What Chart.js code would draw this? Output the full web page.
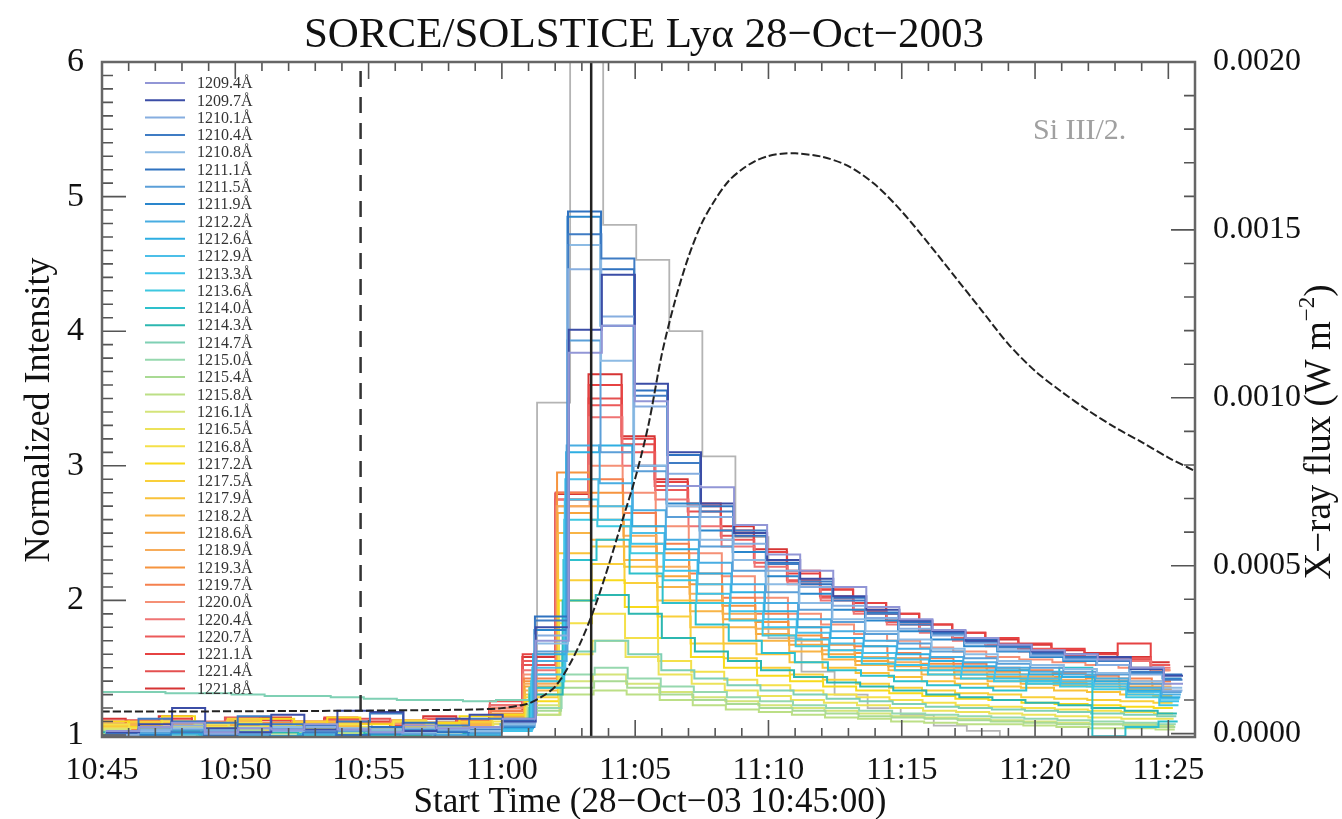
<!DOCTYPE html>
<html lang="en">
<head>
    <meta charset="UTF-8">
    <title>SORCE/SOLSTICE Lyα 28-Oct-2003</title>
    <style>
        body {
            margin: 0;
            background-color: #fff;
        }
        #wrap {
            width: 1342px;
            height: 819px;
        }
    </style>
    <script src="https://cdn.jsdelivr.net/npm/chart.js"></script>
</head>
<body>
    <div id="wrap"><canvas id="lyaChart" width="1342" height="819"></canvas></div>

    <script>
        // wavelengths of the SOLSTICE scan (legend order)
        var wavelengths = ['1209.4','1209.7','1210.1','1210.4','1210.8','1211.1','1211.5','1211.9','1212.2','1212.6','1212.9','1213.3',
                           '1213.6','1214.0','1214.3','1214.7','1215.0','1215.4','1215.8','1216.1','1216.5','1216.8','1217.2','1217.5',
                           '1217.9','1218.2','1218.6','1218.9','1219.3','1219.7','1220.0','1220.4','1220.7','1221.1','1221.4','1221.8'];

        // bin start times, minutes after 10:45:00 (last entry = end of last bin)
        var binStartMinutes = [0.10,1.34,2.58,3.82,5.06,6.30,7.54,8.78,10.02,11.26,12.50,13.74,14.98,16.22,17.46,18.70,19.94,
                               21.18,22.42,23.66,24.90,26.14,27.38,28.62,29.86,31.10,32.34,33.58,34.82,36.06,37.30,38.54,39.78,40.50];

        // time offset of each wavelength inside the scan, minutes
        var scanLag = [0.05,0.05,0.03,0.03,0.02,0.02,0.00,0.00,-0.03,-0.05,-0.08,-0.10,-0.12,-0.15,-0.18,-0.20,-0.22,-0.24,
                       -0.26,-0.28,-0.30,-0.32,-0.33,-0.34,-0.35,-0.36,-0.37,-0.38,-0.39,-0.40,-0.41,-0.42,-0.43,-0.44,-0.45,-0.45];

        // normalized intensity per wavelength, one value per bin
        var i1209_4 = [1.03,1.06,1.09,1.02,1.05,1.04,1.08,1.04,1.02,1.07,1.05,1.06,1.12,1.70,3.84,4.04,3.48,2.85,2.84,2.56,2.34,2.22,2.10,1.95,1.86,1.78,1.72,1.67,1.63,1.60,1.56,1.50,1.38];
        var i1209_7 = [1.02,1.08,1.20,1.05,1.02,1.15,1.04,1.18,1.17,1.03,1.12,1.15,1.10,1.80,4.01,4.42,3.61,3.10,2.72,2.50,2.30,2.16,2.03,1.93,1.85,1.77,1.70,1.67,1.62,1.60,1.58,1.49,1.44];
        var i1210_1 = [1.00,1.04,1.07,1.01,1.05,1.03,1.06,1.04,1.02,1.05,1.04,1.05,1.09,1.74,4.46,4.11,3.44,2.94,2.62,2.42,2.22,2.10,1.96,1.87,1.79,1.74,1.68,1.63,1.59,1.56,1.52,1.45,1.33];
        var i1210_4 = [1.01,1.12,1.02,1.09,1.14,1.08,1.02,1.10,1.16,1.03,1.07,1.12,1.12,1.85,4.72,4.54,3.52,3.02,2.66,2.52,2.27,2.14,2.00,1.90,1.82,1.75,1.69,1.65,1.60,1.57,1.55,1.47,1.41];
        var i1210_8 = [1.02,1.03,1.05,1.04,1.02,1.06,1.03,1.05,1.04,1.02,1.05,1.03,1.08,1.68,4.64,3.78,3.00,2.70,2.45,2.30,2.12,1.98,1.86,1.77,1.71,1.64,1.60,1.55,1.52,1.49,1.46,1.40,1.35];
        var i1211_1 = [0.97,1.04,1.10,1.00,1.08,1.03,1.07,1.00,1.06,1.09,1.02,1.04,1.11,1.88,4.89,4.46,3.56,3.08,2.70,2.48,2.28,2.12,2.02,1.91,1.84,1.76,1.71,1.66,1.61,1.58,1.56,1.50,1.45];
        var i1211_5 = [1.00,1.02,1.04,1.03,1.01,1.05,1.02,1.03,1.04,1.01,1.03,1.02,1.07,1.62,3.93,3.10,2.96,2.62,2.40,2.22,2.06,1.93,1.84,1.75,1.68,1.62,1.57,1.53,1.50,1.47,1.45,1.38,1.32];
        var i1211_9 = [0.95,1.00,1.04,0.98,1.02,0.99,1.03,0.97,1.01,1.04,0.98,1.02,1.06,1.78,4.85,4.04,3.00,2.72,2.52,2.36,2.18,2.05,1.93,1.85,1.77,1.71,1.66,1.62,1.58,1.55,1.52,1.46,1.42];
        var i1212_2 = [0.99,1.01,0.98,1.02,1.00,0.97,1.01,0.99,1.02,0.98,1.00,1.01,1.08,1.55,3.15,2.87,2.67,2.45,2.28,2.12,1.98,1.86,1.77,1.70,1.64,1.58,1.54,1.50,1.47,1.45,1.42,1.35,1.30];
        var i1212_6 = [0.96,0.99,1.01,0.97,1.00,0.98,0.95,0.99,0.97,1.01,0.96,0.99,1.05,1.60,3.10,3.15,2.55,2.38,2.20,2.06,1.92,1.80,1.72,1.66,1.60,1.55,1.51,1.48,1.45,1.43,1.40,1.33,1.28];
        var i1212_9 = [0.97,0.95,0.98,0.96,0.99,0.97,0.96,0.98,0.95,0.97,0.99,0.96,1.04,1.50,2.90,2.70,2.50,2.30,2.12,1.98,1.86,1.76,1.68,1.61,1.56,1.51,1.48,1.45,1.42,1.40,1.38,1.32,1.27];
        var i1213_3 = [0.95,0.97,0.96,0.98,0.95,0.97,0.99,0.96,0.98,0.96,0.95,0.97,1.03,1.45,2.75,2.60,2.42,2.22,2.05,1.92,1.80,1.71,1.63,1.57,1.52,1.48,1.45,1.42,1.40,1.38,1.36,1.30,1.25];
        var i1213_6 = [0.98,0.96,0.99,0.97,1.00,0.98,0.97,0.99,0.96,0.98,0.97,0.99,1.03,1.40,2.60,2.55,2.35,2.15,1.98,1.85,1.74,1.66,1.58,1.53,1.48,1.45,1.42,1.40,1.38,1.36,1.34,1.28,1.22];
        var i1214_0 = [0.99,1.01,0.98,1.00,1.02,0.99,1.01,0.98,1.00,1.02,0.99,1.00,1.04,1.35,2.30,2.45,2.20,1.98,1.82,1.70,1.61,1.54,1.48,1.44,1.40,1.37,1.35,1.33,1.40,1.50,0.99,1.06,1.10];
        var i1214_3 = [1.02,1.00,1.03,1.01,0.99,1.02,1.00,1.03,1.01,1.00,1.02,1.01,1.05,1.30,2.00,2.04,1.90,1.72,1.62,1.55,1.48,1.43,1.39,1.36,1.33,1.30,1.28,1.26,1.24,1.22,1.20,1.18,1.16];
        var i1214_7 = [1.32,1.32,1.31,1.31,1.30,1.29,1.29,1.28,1.27,1.26,1.26,1.25,1.26,1.35,1.62,1.70,1.60,1.48,1.42,1.37,1.33,1.30,1.27,1.25,1.23,1.21,1.20,1.19,1.18,1.17,1.16,1.15,1.14];
        var i1215_0 = [1.00,1.02,1.01,1.03,1.00,1.02,1.01,1.00,1.02,1.01,1.03,1.02,1.04,1.20,1.45,1.50,1.42,1.36,1.32,1.28,1.25,1.22,1.20,1.18,1.16,1.15,1.14,1.13,1.12,1.11,1.10,1.09,1.08];
        var i1215_4 = [1.03,1.01,1.04,1.02,1.03,1.01,1.04,1.02,1.03,1.04,1.02,1.03,1.05,1.18,1.35,1.40,1.35,1.30,1.26,1.23,1.20,1.18,1.16,1.14,1.13,1.12,1.11,1.10,1.09,1.08,1.08,1.07,1.06];
        var i1215_8 = [1.01,1.03,1.02,1.00,1.04,1.02,1.03,1.01,1.02,1.00,1.03,1.02,1.04,1.15,1.30,1.33,1.30,1.26,1.22,1.19,1.17,1.15,1.13,1.12,1.10,1.09,1.08,1.08,1.07,1.06,1.05,1.05,1.04];
        var i1216_1 = [1.04,1.02,1.05,1.03,1.06,1.04,1.02,1.05,1.03,1.04,1.06,1.04,1.06,1.22,1.40,1.45,1.38,1.32,1.28,1.25,1.22,1.20,1.18,1.16,1.14,1.13,1.12,1.11,1.10,1.09,1.08,1.08,1.07];
        var i1216_5 = [1.05,1.03,1.06,1.08,1.04,1.07,1.05,1.03,1.06,1.04,1.07,1.05,1.08,1.15,1.60,1.70,1.58,1.45,1.38,1.33,1.29,1.26,1.24,1.22,1.20,1.18,1.17,1.16,1.15,1.14,1.13,1.12,1.12];
        var i1216_8 = [1.08,1.05,1.10,1.06,1.09,1.07,1.04,1.08,1.06,1.10,1.07,1.05,1.10,1.20,1.83,1.90,1.72,1.55,1.47,1.41,1.37,1.33,1.30,1.28,1.26,1.24,1.22,1.21,1.20,1.19,1.18,1.17,1.16];
        var i1217_2 = [1.10,1.06,1.14,1.08,1.05,1.12,1.07,1.13,1.08,1.06,1.09,1.14,1.15,1.25,2.00,2.15,1.95,1.72,1.58,1.50,1.44,1.40,1.36,1.33,1.31,1.29,1.27,1.26,1.24,1.23,1.22,1.21,1.20];
        var i1217_5 = [1.07,1.10,1.05,1.09,1.12,1.06,1.10,1.08,1.05,1.11,1.08,1.10,1.12,1.28,2.15,2.27,2.13,1.88,1.68,1.57,1.50,1.45,1.41,1.38,1.35,1.33,1.31,1.30,1.28,1.27,1.26,1.25,1.24];
        var i1217_9 = [1.06,1.09,1.04,1.08,1.11,1.05,1.09,1.07,1.04,1.10,1.07,1.09,1.12,1.30,2.35,2.40,2.25,2.00,1.80,1.68,1.60,1.54,1.50,1.46,1.43,1.40,1.38,1.36,1.35,1.33,1.32,1.30,1.29];
        var i1218_2 = [1.04,1.07,1.10,1.05,1.08,1.03,1.07,1.10,1.06,1.04,1.09,1.07,1.13,1.33,2.50,2.45,2.30,2.10,1.92,1.80,1.70,1.62,1.56,1.52,1.48,1.45,1.42,1.40,1.38,1.37,1.36,1.34,1.32];
        var i1218_6 = [1.03,1.06,1.09,1.04,1.07,1.02,1.06,1.09,1.05,1.03,1.08,1.06,1.14,1.36,2.65,2.60,2.40,2.18,2.00,1.86,1.75,1.67,1.60,1.55,1.51,1.48,1.45,1.43,1.41,1.39,1.38,1.36,1.34];
        var i1218_9 = [1.05,1.08,1.03,1.07,1.10,1.04,1.08,1.06,1.03,1.09,1.06,1.08,1.15,1.38,2.70,2.70,2.48,2.25,2.05,1.90,1.79,1.70,1.63,1.58,1.54,1.50,1.47,1.45,1.43,1.41,1.40,1.38,1.36];
        var i1219_3 = [1.02,1.05,1.08,1.03,1.06,1.09,1.04,1.07,1.05,1.02,1.07,1.05,1.16,1.40,2.95,2.80,2.55,2.35,2.12,1.96,1.84,1.74,1.67,1.61,1.57,1.53,1.50,1.47,1.45,1.43,1.42,1.40,1.38];
        var i1219_7 = [1.04,1.02,1.06,1.09,1.04,1.07,1.03,1.06,1.09,1.04,1.06,1.08,1.18,1.42,2.80,2.90,2.65,2.42,2.20,2.02,1.90,1.80,1.72,1.66,1.61,1.57,1.53,1.50,1.48,1.46,1.44,1.42,1.40];
        var i1220_0 = [1.06,1.03,1.08,1.05,1.02,1.07,1.10,1.05,1.03,1.08,1.05,1.07,1.20,1.45,2.70,3.00,2.80,2.55,2.35,2.18,2.02,1.90,1.82,1.75,1.70,1.65,1.62,1.58,1.56,1.54,1.52,1.50,1.48];
        var i1220_4 = [1.05,1.08,1.04,1.10,1.06,1.03,1.09,1.06,1.04,1.11,1.06,1.09,1.22,1.48,2.75,3.36,3.00,2.75,2.55,2.40,2.25,2.12,2.00,1.90,1.82,1.76,1.70,1.66,1.62,1.58,1.56,1.55,1.50];
        var i1220_7 = [1.08,1.04,1.10,1.06,1.12,1.05,1.08,1.11,1.06,1.09,1.12,1.08,1.25,1.55,2.80,3.45,3.10,2.82,2.62,2.45,2.28,2.14,2.02,1.92,1.84,1.77,1.72,1.68,1.64,1.60,1.58,1.57,1.52];
        var i1221_1 = [1.10,1.06,1.12,1.08,1.05,1.11,1.07,1.13,1.09,1.06,1.12,1.09,1.22,1.60,2.75,3.60,3.20,2.88,2.70,2.52,2.36,2.20,2.08,1.98,1.90,1.82,1.76,1.72,1.68,1.64,1.60,1.68,1.52];
        var i1221_4 = [1.07,1.11,1.05,1.09,1.13,1.06,1.10,1.08,1.12,1.05,1.09,1.11,1.20,1.52,2.80,3.50,3.16,2.85,2.66,2.48,2.30,2.15,2.03,1.93,1.85,1.78,1.72,1.67,1.63,1.59,1.57,1.56,1.48];
        var i1221_8 = [1.12,1.08,1.14,1.09,1.06,1.13,1.08,1.12,1.10,1.07,1.14,1.10,1.18,1.58,2.79,3.68,3.22,2.90,2.72,2.55,2.38,2.22,2.08,1.98,1.90,1.82,1.76,1.71,1.67,1.63,1.61,1.58,1.54];

        var intensitySeries = [i1209_4, i1209_7, i1210_1, i1210_4, i1210_8, i1211_1, i1211_5, i1211_9, i1212_2, i1212_6, i1212_9, i1213_3,
                               i1213_6, i1214_0, i1214_3, i1214_7, i1215_0, i1215_4, i1215_8, i1216_1, i1216_5, i1216_8, i1217_2, i1217_5,
                               i1217_9, i1218_2, i1218_6, i1218_9, i1219_3, i1219_7, i1220_0, i1220_4, i1220_7, i1221_1, i1221_4, i1221_8];

        // Si III line, divided by 2 (same bins, small lag)
        var siIIILag = 0.10;
        var siIIIHalf = [1.08,1.10,1.06,1.09,1.07,1.10,1.08,1.06,1.09,1.07,1.10,1.08,1.15,3.47,8.00,4.79,4.53,4.00,3.07,2.47,1.72,1.47,1.30,1.20,1.15,1.07,1.03,0.97,0.96,0.96,0.96,0.96,0.96];

        // GOES X-ray flux (W m^-2)
        var goesMinutes = [0,3,6,9,12,14,15,16,16.5,17,17.5,18,18.5,19,19.5,20,20.5,21,21.5,22,22.5,23,23.5,24,24.5,25,25.5,26,27,28,29,30,31,32,33,34,35,36,37,38,39,40,41];
        var goesFlux = [0.000066,0.000066,0.000067,0.000068,0.000070,0.000072,0.000076,0.000090,0.000110,0.000140,0.000200,0.000280,0.000380,0.000500,0.000630,0.000760,
                        0.000920,0.001130,0.001290,0.001420,0.001520,0.001590,0.001645,0.001680,0.001705,0.001720,0.001727,0.001728,0.001718,0.001690,0.001635,0.001555,
                        0.001460,0.001360,0.001260,0.001160,0.001080,0.001018,0.000962,0.000912,0.000868,0.000822,0.000782];

        // vertical markers, minutes after 10:45
        var dashedMarker = 9.7;
        var solidMarker = 18.35;

        var timeTicks = [0, 5, 10, 15, 20, 25, 30, 35, 40];
        var intensityTicks = [1, 2, 3, 4, 5, 6];
        var fluxTicks = [0, 0.0005, 0.0010, 0.0015, 0.0020];

        var lineColors = ['#9296d6','#3b4da6','#86aee0','#3f7cc4','#8dbbe4','#2f72c0','#5b9fd8','#2a86cc','#48ade2','#2eaee2','#4cbfe8','#3cc3ea',
                          '#3ec8e0','#2ec0cc','#2cb7b0','#7fd0b4','#96d8ae','#a9da94','#bcdf86','#d4e47a','#ece25a','#f4e04a','#f8da1c','#f9cf3a',
                          '#f9c23a','#f8b446','#f8a53c','#f7ac5a','#f6943f','#f5804e','#f59076','#ef7474','#ec5a5a','#e64242','#e45050','#d63434'];

        var serif = "'Liberation Serif', 'Times New Roman', serif";
        var yMin = 0.985, yMax = 6;

        // value k holds from binStart[k] to binStart[k+1]
        function stepPoints(values, lag) {
            return binStartMinutes.map(function (t, k) {
                return { x: t + lag, y: values[Math.min(k, values.length - 1)] };
            });
        }

        function clockLabel(v) {
            var total = 45 + v;
            var h = 10 + Math.floor(total / 60);
            var m = total % 60;
            return h + ':' + (m < 10 ? '0' : '') + m;
        }

        var datasets = [];
        datasets.push({
            label: 'GOES', yAxisID: 'y2', order: 0,
            data: goesMinutes.map(function (t, i) { return { x: t, y: goesFlux[i] }; }),
            borderColor: '#222', borderWidth: 2, borderDash: [8, 3], tension: 0.3
        });
        datasets.push({
            label: 'marker1', yAxisID: 'y', order: 0,
            data: [{ x: dashedMarker, y: yMin }, { x: dashedMarker, y: yMax }],
            borderColor: '#333', borderWidth: 2.5, borderDash: [16, 10]
        });
        datasets.push({
            label: 'marker2', yAxisID: 'y', order: 0,
            data: [{ x: solidMarker, y: yMin }, { x: solidMarker, y: yMax }],
            borderColor: '#222', borderWidth: 2.5
        });
        intensitySeries.forEach(function (vals, s) {
            datasets.push({
                label: wavelengths[s] + 'Å', yAxisID: 'y', order: 1,
                data: stepPoints(vals, scanLag[s]),
                borderColor: lineColors[s], borderWidth: 2, stepped: 'before',
                isScan: true
            });
        });
        datasets.push({
            label: 'Si III/2', yAxisID: 'y', order: 2,
            data: stepPoints(siIIIHalf, siIIILag),
            borderColor: '#b4b4b4', borderWidth: 1.8, stepped: 'before'
        });

        var idlAxes = {
            id: 'idlAxes',
            afterDraw: function (chart) {
                var ctx = chart.ctx, a = chart.chartArea, sc = chart.scales;
                ctx.save();

                // inward ticks
                ctx.strokeStyle = '#555';
                ctx.lineWidth = 1.6;
                ctx.beginPath();
                for (var m = 1; m <= 40; m++) {
                    var x = sc.x.getPixelForValue(m);
                    var lx = m % 5 === 0 ? 17 : 9;
                    ctx.moveTo(x, a.bottom); ctx.lineTo(x, a.bottom - lx);
                    ctx.moveTo(x, a.top); ctx.lineTo(x, a.top + lx);
                }
                for (var k = 10; k < 60; k++) {
                    var y = sc.y.getPixelForValue(k / 10);
                    var ly = k % 10 === 0 ? 24 : 11;
                    ctx.moveTo(a.left, y); ctx.lineTo(a.left + ly, y);
                }
                for (var j = 0; j < 20; j++) {
                    var y2 = sc.y2.getPixelForValue(j * 0.0001);
                    var l2 = j % 5 === 0 ? 24 : 11;
                    ctx.moveTo(a.right, y2); ctx.lineTo(a.right - l2, y2);
                }
                ctx.stroke();

                // frame
                ctx.strokeStyle = '#666';
                ctx.lineWidth = 2.5;
                ctx.strokeRect(a.left, a.top, a.right - a.left, a.bottom - a.top);

                // legend
                ctx.font = '16px ' + serif;
                ctx.textBaseline = 'middle';
                ctx.textAlign = 'left';
                var row = 0;
                chart.data.datasets.forEach(function (ds) {
                    if (!ds.isScan) return;
                    var ry = 83 + row * 17.3;
                    ctx.strokeStyle = ds.borderColor;
                    ctx.lineWidth = 2;
                    ctx.beginPath();
                    ctx.moveTo(145, ry); ctx.lineTo(185, ry);
                    ctx.stroke();
                    ctx.fillStyle = '#333';
                    ctx.fillText(ds.label, 197, ry + 1);
                    row++;
                });

                // titles
                ctx.fillStyle = '#111';
                ctx.textAlign = 'center';
                ctx.textBaseline = 'alphabetic';
                ctx.font = '43px ' + serif;
                ctx.fillText('SORCE/SOLSTICE Lyα 28−Oct−2003', 644, 47);

                ctx.font = '35px ' + serif;
                ctx.fillText('Start Time (28−Oct−03 10:45:00)', 650, 812);

                ctx.save();
                ctx.translate(40, 410);
                ctx.rotate(-Math.PI / 2);
                ctx.textBaseline = 'middle';
                ctx.font = '36px ' + serif;
                ctx.fillText('Normalized Intensity', 0, 0);
                ctx.restore();

                ctx.save();
                ctx.translate(1320, 432);
                ctx.rotate(-Math.PI / 2);
                ctx.textBaseline = 'middle';
                ctx.textAlign = 'left';
                var main = 'X−ray flux (W m', sup = '−2', tail = ')';
                ctx.font = '37px ' + serif;
                var w1 = ctx.measureText(main).width, w3 = ctx.measureText(tail).width;
                ctx.font = '23px ' + serif;
                var w2 = ctx.measureText(sup).width;
                var x0 = -(w1 + w2 + w3) / 2;
                ctx.font = '37px ' + serif;
                ctx.fillText(main, x0, 0);
                ctx.font = '23px ' + serif;
                ctx.fillText(sup, x0 + w1, -12);
                ctx.font = '37px ' + serif;
                ctx.fillText(tail, x0 + w1 + w2, 0);
                ctx.restore();

                ctx.fillStyle = '#a0a0a0';
                ctx.textAlign = 'left';
                ctx.font = '30px ' + serif;
                ctx.fillText('Si III/2.', 1033, 139);

                ctx.restore();
            }
        };

        new Chart(document.getElementById('lyaChart').getContext('2d'), {
            type: 'line',
            data: { datasets: datasets },
            options: {
                responsive: false,
                animation: false,
                layout: { padding: { top: 62, left: 0, right: 0, bottom: 0 } },
                elements: { point: { radius: 0 } },
                plugins: { legend: { display: false }, tooltip: { enabled: false } },
                scales: {
                    x: {
                        type: 'linear', min: 0, max: 41,
                        grid: { display: false }, border: { display: false },
                        afterBuildTicks: function (s) { s.ticks = timeTicks.map(function (v) { return { value: v }; }); },
                        afterFit: function (s) { s.height = 82; },
                        ticks: { callback: clockLabel, font: { family: serif, size: 32 }, color: '#111', padding: 6, maxRotation: 0, autoSkip: false }
                    },
                    y: {
                        type: 'linear', position: 'left', min: yMin, max: yMax,
                        grid: { display: false }, border: { display: false },
                        afterBuildTicks: function (s) { s.ticks = intensityTicks.map(function (v) { return { value: v }; }); },
                        afterFit: function (s) { s.width = 102; },
                        ticks: { font: { family: serif, size: 34 }, color: '#111', padding: 10 }
                    },
                    y2: {
                        type: 'linear', position: 'right', min: -0.00001, max: 0.002,
                        grid: { display: false }, border: { display: false },
                        afterBuildTicks: function (s) { s.ticks = fluxTicks.map(function (v) { return { value: v }; }); },
                        afterFit: function (s) { s.width = 147; },
                        ticks: { callback: function (v) { return v.toFixed(4); }, font: { family: serif, size: 32 }, color: '#111', padding: 10 }
                    }
                }
            },
            plugins: [idlAxes]
        });
    </script>
</body>
</html>
